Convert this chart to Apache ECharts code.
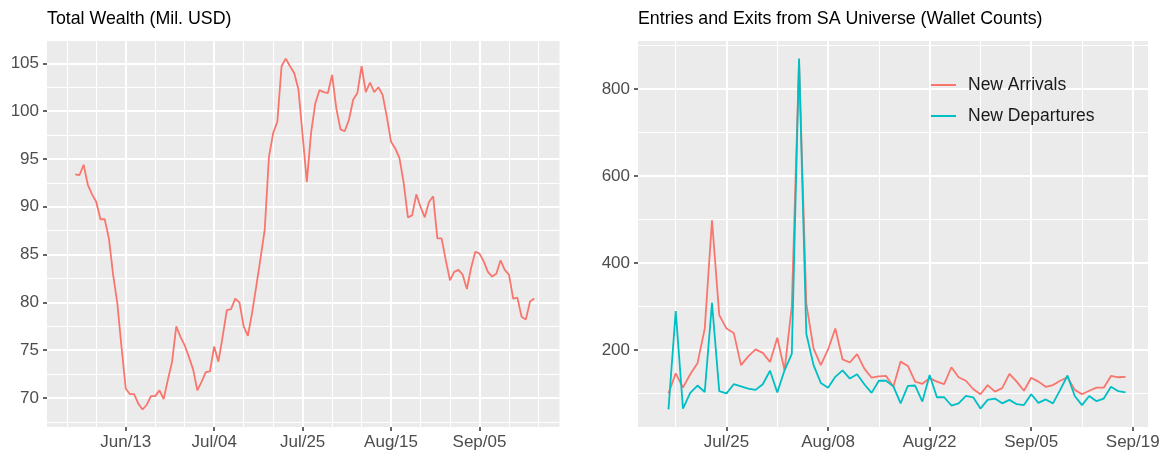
<!DOCTYPE html>
<html>
<head>
<meta charset="utf-8">
<script src="https://cdn.jsdelivr.net/npm/echarts@6/dist/echarts.min.js"></script>
<style>
html,body{margin:0;padding:0;background:#fff;}
#chart{width:1168px;height:452px;}
</style>
</head>
<body>
<div id="chart"></div>
<script>
// ---------- DATA ----------
const wealthStartDate = '2022-06-01'; // daily series
const wealthValues = [
  93.4, 93.3, 94.4, 92.3, 91.3, 90.5, 88.7, 88.7, 86.7, 82.9, 79.9, 75.3,
  71.0, 70.4, 70.4, 69.4, 68.8, 69.3, 70.2, 70.2, 70.8, 69.9, 71.9, 73.8, 77.5, 76.4, 75.5, 74.3, 73.0, 70.8,
  71.7, 72.7, 72.8, 75.4, 73.8, 76.4, 79.2, 79.3, 80.4, 80.0, 77.5, 76.5, 78.9, 81.7, 84.6, 87.6, 95.2, 97.7, 98.9, 104.7, 105.5, 104.7, 104.0, 102.3, 97.5, 92.6, 97.7, 100.8, 102.2, 102.0, 101.9,
  103.8, 100.3, 98.1, 97.9, 99.1, 101.2, 101.9, 104.7, 102.0, 103.0, 102.0, 102.5, 101.7, 99.4, 96.8, 96.1, 95.1, 92.5, 88.9, 89.1, 91.3, 90.0, 88.9, 90.5, 91.1, 86.7, 86.7, 84.4, 82.3, 83.2, 83.4,
  82.9, 81.4, 83.6, 85.3, 85.1, 84.3, 83.2, 82.7, 83.0, 84.4, 83.4, 82.9, 80.4, 80.5, 78.5, 78.2, 80.1, 80.4
];

const flowStartDate = '2022-07-17'; // daily series
const newArrivals = [
  100, 146, 113, 144, 169, 249, 498, 280, 249, 239, 165, 185, 201, 193, 172,
  228, 153, 300, 865, 306, 203, 165, 201, 249, 178, 171, 190, 157, 136, 139, 140, 115, 173, 163, 127, 122, 135, 127, 121, 160, 137, 129, 110, 98, 119, 104,
  112, 145, 127, 106, 136, 127, 115, 119, 129, 137, 108, 98, 106, 113, 113, 140, 137, 138
];
const newDepartures = [
  63, 289, 65, 101, 118, 103, 308, 105, 100, 121, 116, 111, 108, 121, 152,
  102, 153, 191, 870, 237, 165, 124, 113, 138, 153, 134, 144, 121, 101, 129, 129, 116, 77, 117, 118, 81, 142, 91, 91, 72, 77, 94, 91, 65, 85, 88,
  77, 85, 75, 73, 98, 78, 86, 77, 108, 141, 94, 73, 94, 82, 88, 115, 105, 102
];

const seriesNames = ['New Arrivals', 'New Departures'];
const titles = ['Total Wealth (Mil. USD)', 'Entries and Exits from SA Universe (Wallet Counts)'];

const leftTickDates = ['2022-06-13', '2022-07-04', '2022-07-25', '2022-08-15', '2022-09-05'];
const leftTickLabels = ['Jun/13', 'Jul/04', 'Jul/25', 'Aug/15', 'Sep/05'];
const leftMinorDates = ['2022-05-30', '2022-06-06', '2022-06-20', '2022-06-27', '2022-07-11', '2022-07-18', '2022-08-01', '2022-08-08', '2022-08-22', '2022-08-29', '2022-09-12', '2022-09-19'];
const rightTickDates = ['2022-07-25', '2022-08-08', '2022-08-22', '2022-09-05', '2022-09-19'];
const rightTickLabels = ['Jul/25', 'Aug/08', 'Aug/22', 'Sep/05', 'Sep/19'];
const rightMinorDates = ['2022-07-18', '2022-08-01', '2022-08-15', '2022-08-29', '2022-09-12'];

const leftYTicks = [70, 75, 80, 85, 90, 95, 100, 105];
const leftYMinor = [67.5, 72.5, 77.5, 82.5, 87.5, 92.5, 97.5, 102.5];
const rightYTicks = [200, 400, 600, 800];
const rightYMinor = [100, 300, 500, 700, 900];

// ---------- helpers ----------
function dayNum(s) {
  const p = s.split('-').map(Number);
  return Date.UTC(p[0], p[1] - 1, p[2]) / 86400000;
}
function toSeries(start, vals) {
  const d0 = dayNum(start);
  return vals.map((v, i) => [d0 + i, v]);
}
function labelFmt(dates, labels) {
  const days = dates.map(dayNum);
  return function (v) {
    for (let i = 0; i < days.length; i++) if (Math.abs(days[i] - v) < 0.01) return labels[i];
    return '';
  };
}

// axis extents (panel limits)
const leftXMin = dayNum('2022-06-13') - 18.7, leftXMax = dayNum('2022-09-05') + 19.0;
const rightXMin = dayNum('2022-07-25') - 12.2, rightXMax = dayNum('2022-09-19') + 2.1;
const leftYMin = 66.97, leftYMax = 107.34;
const rightYMin = 22.6, rightYMax = 910.4;

const FONT = '"Liberation Sans", Arial, Helvetica, sans-serif';
const PANEL = '#EBEBEB';
const tickStyle = { show: true, length: 4, lineStyle: { color: '#333333', width: 1.5 } };
const labelStyle = { color: '#4D4D4D', fontSize: 17, fontFamily: FONT };

function majorX(grid, min, max, dates, labels) {
  const vals = dates.map(dayNum);
  return {
    type: 'value', gridIndex: grid, min: min, max: max, position: 'bottom',
    axisLine: { show: false },
    axisTick: Object.assign({ customValues: vals }, tickStyle),
    axisLabel: Object.assign({ customValues: vals, margin: 7, formatter: labelFmt(dates, labels), hideOverlap: false }, labelStyle),
    splitLine: { show: true, customValues: vals, lineStyle: { color: '#FFFFFF', width: 2 } }
  };
}
function minorX(grid, min, max, dates) {
  const vals = dates.map(dayNum);
  return {
    type: 'value', gridIndex: grid, min: min, max: max, position: 'bottom',
    axisLine: { show: false },
    axisTick: { show: false, customValues: vals },
    axisLabel: { show: false, customValues: vals },
    splitLine: { show: true, customValues: vals, lineStyle: { color: '#FFFFFF', width: 1 } }
  };
}
function majorY(grid, min, max, vals) {
  return {
    type: 'value', gridIndex: grid, min: min, max: max, position: 'left',
    axisLine: { show: false },
    axisTick: Object.assign({ customValues: vals }, tickStyle),
    axisLabel: Object.assign({ customValues: vals, margin: 8 }, labelStyle),
    splitLine: { show: true, customValues: vals, lineStyle: { color: '#FFFFFF', width: 2 } }
  };
}
function minorY(grid, min, max, vals) {
  return {
    type: 'value', gridIndex: grid, min: min, max: max, position: 'right',
    axisLine: { show: false },
    axisTick: { show: false, customValues: vals },
    axisLabel: { show: false, customValues: vals },
    splitLine: { show: true, customValues: vals, lineStyle: { color: '#FFFFFF', width: 1 } }
  };
}

const chart = echarts.init(document.getElementById('chart'), null, { renderer: 'canvas' });
chart.setOption({
  animation: false,
  backgroundColor: '#FFFFFF',
  title: [
    { text: titles[0], left: 47, top: 10, padding: 0, textStyle: { fontFamily: FONT, fontSize: 17.8, fontWeight: 'normal', color: '#000000' } },
    { text: titles[1], left: 638, top: 10, padding: 0, textStyle: { fontFamily: FONT, fontSize: 17.8, fontWeight: 'normal', color: '#000000' } }
  ],
  grid: [
    { left: 47, right: 608.5, top: 41, bottom: 25, show: true, backgroundColor: PANEL, borderWidth: 0 },
    { left: 638, right: 20, top: 41, bottom: 25, show: true, backgroundColor: PANEL, borderWidth: 0 }
  ],
  xAxis: [
    minorX(0, leftXMin, leftXMax, leftMinorDates),
    majorX(0, leftXMin, leftXMax, leftTickDates, leftTickLabels),
    minorX(1, rightXMin, rightXMax, rightMinorDates),
    majorX(1, rightXMin, rightXMax, rightTickDates, rightTickLabels)
  ],
  yAxis: [
    minorY(0, leftYMin, leftYMax, leftYMinor),
    majorY(0, leftYMin, leftYMax, leftYTicks),
    minorY(1, rightYMin, rightYMax, rightYMinor),
    majorY(1, rightYMin, rightYMax, rightYTicks)
  ],
  legend: {
    data: seriesNames,
    left: 931, top: 76, orient: 'vertical', padding: 0,
    icon: 'rect', itemWidth: 25, itemHeight: 2, itemGap: 13,
    textStyle: { fontFamily: FONT, fontSize: 17.5, color: '#1A1A1A', lineHeight: 18, padding: [0, 0, 0, 7] }
  },
  series: [
    {
      name: 'Total Wealth', type: 'line', xAxisIndex: 1, yAxisIndex: 1,
      data: toSeries(wealthStartDate, wealthValues),
      showSymbol: false, symbol: 'none', lineStyle: { color: '#F8766D', width: 1.8 }, itemStyle: { color: '#F8766D' }
    },
    {
      name: seriesNames[0], type: 'line', xAxisIndex: 3, yAxisIndex: 3,
      data: toSeries(flowStartDate, newArrivals),
      showSymbol: false, symbol: 'none', lineStyle: { color: '#F8766D', width: 1.8 }, itemStyle: { color: '#F8766D' }
    },
    {
      name: seriesNames[1], type: 'line', xAxisIndex: 3, yAxisIndex: 3,
      data: toSeries(flowStartDate, newDepartures),
      showSymbol: false, symbol: 'none', lineStyle: { color: '#00BFC4', width: 1.8 }, itemStyle: { color: '#00BFC4' }
    }
  ]
});
</script>
</body>
</html>
